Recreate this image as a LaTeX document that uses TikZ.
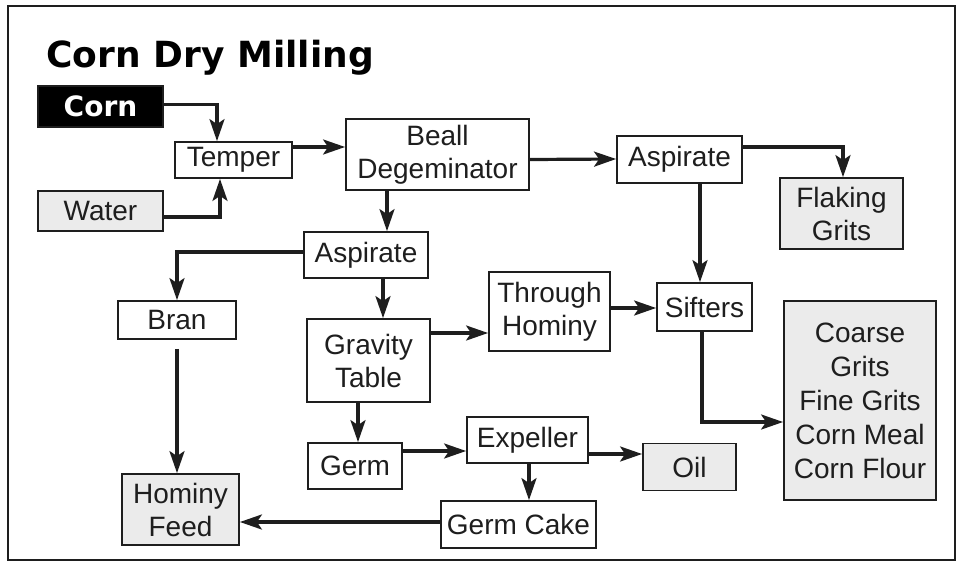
\documentclass[tikz,border=0pt]{standalone}
\usepackage{fontspec}
\setmainfont{Liberation Sans}
\newfontfamily\headfont{DejaVu Sans}
\usetikzlibrary{arrows.meta}
\definecolor{ink}{HTML}{1E1E1E}
\definecolor{shade}{HTML}{EBEBEB}

\begin{document}
\begin{tikzpicture}[x=1pt,y=-1pt,
	box/.style={draw=ink,line width=1.8pt,fill=white,text=ink,inner sep=0pt,align=center,
		font=\fontsize{28}{33}\selectfont},
	prod/.style={box,fill=shade},
	arr/.style={draw=ink,line width=3.2pt,-{Stealth[length=22pt,width=15pt,inset=5pt]}}]
	\useasboundingbox (0,0) rectangle (961,563);
	\draw[ink,line width=2pt] (8,6) rectangle (955,560);

	\node[anchor=base west,text=black,font=\headfont\bfseries\fontsize{36}{42}\selectfont] (title) at (43,67) {Corn Dry Milling};

	% raw materials
	\node[box,fill=black,text=white,minimum width=125pt,minimum height=41pt,
		font=\headfont\bfseries\fontsize{28}{33}\selectfont] (corn) at (100.5,106.5) {Corn};
	\node[prod,minimum width=125pt,minimum height=40pt] (water) at (100.5,211) {Water};
	\node[box,minimum width=117pt,minimum height=36pt] (temper) at (233.5,160) {Temper};
	\node[box,minimum width=183pt,minimum height=71pt] (beall) at (437.5,154.5) {Beall\\Degeminator};

	% process steps
	\node[box,minimum width=124pt,minimum height=46pt] (asp1) at (366,255) {Aspirate};
	\node[box,minimum width=125pt,minimum height=47pt] (asp2) at (679.5,159.5) {Aspirate};
	\node[box,minimum width=118pt,minimum height=38pt] (bran) at (177,320) {Bran};
	\node[box,minimum width=123pt,minimum height=83pt] (gravity) at (368.5,360.5) {Gravity\\Table};
	\node[box,minimum width=121pt,minimum height=79pt] (through) at (549.5,311.5) {Through\\Hominy};
	\node[box,minimum width=95pt,minimum height=48pt] (sifters) at (704.5,307) {Sifters};
	\node[box,minimum width=94pt,minimum height=46pt] (germ) at (355,466) {Germ};
	\node[box,minimum width=121pt,minimum height=46pt] (expeller) at (527.5,440) {Expeller};
	\node[box,minimum width=155pt,minimum height=47pt] (germcake) at (518.5,524.5) {Germ Cake};

	% products
	\node[prod,minimum width=123pt,minimum height=71pt] (flaking) at (841.5,213.5) {Flaking\\Grits};
	\node[prod,minimum width=152pt,minimum height=199pt,font=\fontsize{28}{34}\selectfont] (grits) at (860,400.5)
		{Coarse\\Grits\\Fine Grits\\Corn Meal\\Corn Flour};
	\node[prod,minimum width=93pt,minimum height=47pt] (oil) at (689.5,467) {Oil};
	\node[prod,minimum width=117pt,minimum height=71pt] (hominy) at (180.5,509.5) {Hominy\\Feed};

	% flow
	\draw[arr] ([yshift=2pt]corn.east) -| ([xshift=-16.5pt]temper.north);
	\draw[arr] ([yshift=-6pt]water.east) -| ([xshift=-13.5pt]temper.south);
	\draw[arr] ([yshift=13pt]temper.east) -- ([yshift=7.5pt]beall.west);
	\draw[arr] ([yshift=-5pt]beall.east) -- ([yshift=0.5pt]asp2.west);
	\draw[arr] ([xshift=-50.5pt]beall.south) -- ([xshift=21pt]asp1.north);
	\draw[arr] ([yshift=12.5pt]asp2.east) -| ([xshift=1.5pt]flaking.north);
	\draw[arr] ([xshift=20.5pt]asp2.south) -- ([xshift=-4.5pt]sifters.north);
	\draw[arr] ([yshift=3pt]asp1.west) -| (bran.north);
	\draw[arr] ([xshift=17pt]asp1.south) -- ([xshift=14.5pt]gravity.north);
	\draw[arr] ([yshift=27.5pt]gravity.east) -- ([yshift=-21.5pt]through.west);
	\draw[arr] ([yshift=3.5pt]through.east) -- ([yshift=-1pt]sifters.west);
	\draw[arr] ([xshift=-2.5pt]sifters.south) |- ([yshift=-21.5pt]grits.west);
	\draw[arr] ([yshift=-9pt]bran.south) -- ([xshift=-3.5pt]hominy.north);
	\draw[arr] ([xshift=-10.5pt]gravity.south) -- ([xshift=3pt]germ.north);
	\draw[arr] ([yshift=15pt]germ.east) -- ([yshift=-11pt]expeller.west);
	\draw[arr] ([yshift=-14pt]expeller.east) -- ([yshift=13pt]oil.west);
	\draw[arr] ([xshift=1.5pt]expeller.south) -- ([xshift=10.5pt]germcake.north);
	\draw[arr] ([yshift=2.5pt]germcake.west) -- ([yshift=-12.5pt]hominy.east);
\end{tikzpicture}
\end{document}
